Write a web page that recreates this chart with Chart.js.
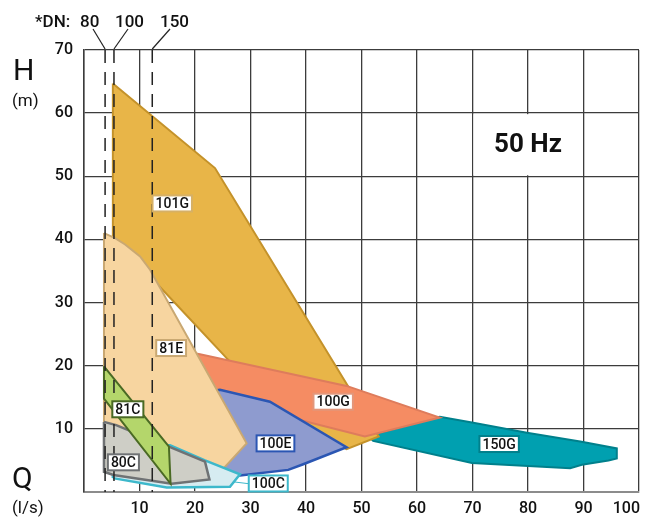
<!DOCTYPE html>
<html>
<head>
<meta charset="utf-8">
<script src="https://cdn.jsdelivr.net/npm/chart.js@4.4.1/dist/chart.umd.min.js"></script>
<style>
  html, body { margin: 0; padding: 0; background: #fff; }
  #wrap { width: 649px; height: 518px; }
</style>
</head>
<body>
<div id="wrap"><canvas id="pumpChart"></canvas></div>
<script>
// axis ticks
const qTicks = [0, 10, 20, 30, 40, 50, 60, 70, 80, 90, 100];
const hTicks = [0, 10, 20, 30, 40, 50, 60, 70];

// pipe sizes (DN) and the flow where each dashed line sits
const dnNames = ['80', '100', '150'];
const dnFlow = [3.8, 5.4, 12.3];

// pump ranges, [Q l/s, H m] corners of each area
const c81 = [[3.6, 19.9], [15.3, 7.2], [15.6, 1.3], [3.6, 14.8]];
const c80 = [[3.6, 11.1], [5.8, 10.6], [10.5, 8.9], [15.3, 7.2], [21.8, 4.8], [22.6, 2.0], [15.8, 1.3], [5.3, 2.7], [3.6, 3.2]];
const c100 = [[5.2, 2.2], [5.2, 7.5], [15.5, 7.4], [21.8, 5.0], [28.1, 2.8], [26.3, 0.84], [14.9, 0.7]];
const e81 = [[3.6, 41], [5.6, 40.2], [7.4, 39.2], [10.1, 37.3], [11.9, 35.2], [29.3, 7.7], [25.1, 3.7], [15, 2], [3.6, 3.5]];
const e100 = [[5.3, 12], [12, 14.5], [24.5, 16.2], [33.5, 14.3], [47.3, 7.1], [39.5, 4.4], [36.8, 3.5], [28.1, 2.6], [15, 2.5], [5.3, 9]];
const g100 = [[18, 22.3], [20.9, 21.8], [47.3, 16.8], [64.1, 11.8], [50.6, 8.8], [38.9, 11.4], [20, 15.8]];
const g101 = [[5.2, 64.7], [23.6, 51.3], [53.1, 8.8], [47.3, 6.8], [36, 12], [25.7, 21.2], [14.2, 32], [5.2, 40.5]];
const g150 = [[51.2, 8.9], [64.1, 11.9], [69.9, 11.0], [79.8, 9.4], [89.4, 8.0], [96.0, 6.9], [96.0, 5.3], [94.5, 5.0], [89.7, 4.3], [87.6, 3.75], [69.9, 4.6], [52.1, 8.1]];

// name tags: where each one sits (Q, H)
const tagNames = ['101G', '81E', '81C', '80C', '100E', '100C', '100G', '150G'];
const tagQ = [15.9, 15.7, 7.9, 7.1, 34.5, 33.2, 44.9, 74.8];
const tagH = [45.7, 22.8, 13.1, 4.7, 7.7, 1.35, 14.3, 7.6];
const tagEdge = ['#d6b066', '#c9a872', '#4a6a24', '#6f7274', '#2b56b3', '#3db8cb', '#e3967a', '#00808c'];

const toXY = pts => pts.concat([pts[0]]).map(([q, h]) => ({ x: q, y: h }));

// first one is drawn on top
const areas = [
  { label: '81C', pts: c81, fill: '#b4d66b', edge: '#4a6a24', w: 2 },
  { label: '80C', pts: c80, fill: '#cecec6', edge: '#6f7274', w: 2.5 },
  { label: '100C', pts: c100, fill: '#d6ecf1', edge: '#3db8cb', w: 2.5 },
  { label: '81E', pts: e81, fill: '#f7d5a0', edge: '#c9a872', w: 2 },
  { label: '100E', pts: e100, fill: '#8e9bcf', edge: '#2b56b3', w: 2.5 },
  { label: '100G', pts: g100, fill: '#f58c63', edge: '#de7c5c', w: 2 },
  { label: '101G', pts: g101, fill: '#e8b548', edge: '#c4922a', w: 2 },
  { label: '150G', pts: g150, fill: '#00a0b0', edge: '#00808c', w: 2 }
];

const overlay = {
  id: 'overlay',
  afterDraw(chart) {
    const { ctx, scales: { x, y }, chartArea } = chart;
    ctx.save();

    // "50 Hz" box
    const bx0 = x.getPixelForValue(70) + 1, bx1 = x.getPixelForValue(90) - 1;
    const by0 = y.getPixelForValue(60) + 1, by1 = y.getPixelForValue(50) - 1;
    ctx.fillStyle = '#fff';
    ctx.fillRect(bx0, by0, bx1 - bx0, by1 - by0);
    ctx.fillStyle = '#111';
    ctx.font = 'bold 26px Roboto';
    ctx.textAlign = 'center';
    ctx.textBaseline = 'middle';
    ctx.fillText('50 Hz', (bx0 + bx1) / 2, (by0 + by1) / 2 + 1);

    // DN dashed lines
    ctx.strokeStyle = '#222';
    ctx.lineWidth = 1.5;
    ctx.setLineDash([13, 9]);
    const top = y.getPixelForValue(70), bot = y.getPixelForValue(0);
    dnFlow.forEach(q => {
      const px = x.getPixelForValue(q);
      ctx.beginPath();
      ctx.moveTo(px, top);
      ctx.lineTo(px, bot);
      ctx.stroke();
    });
    ctx.setLineDash([]);

    // DN texts and leaders
    ctx.fillStyle = '#111';
    ctx.font = '500 17px Roboto';
    ctx.textAlign = 'left';
    ctx.textBaseline = 'alphabetic';
    ctx.fillText('*DN:', 35, 27);
    const textX = [80, 115, 160];
    const leadX = [93, 128, 170];
    dnNames.forEach((n, i) => {
      ctx.fillText(n, textX[i], 27);
      ctx.beginPath();
      ctx.lineWidth = 1.2;
      ctx.moveTo(leadX[i], 29);
      ctx.lineTo(x.getPixelForValue(dnFlow[i]), top - 1);
      ctx.stroke();
    });

    // axis titles
    ctx.font = '30px Roboto';
    ctx.fillText('H', 13, 80);
    ctx.fillText('Q', 12, 488);
    ctx.font = '17px Roboto';
    ctx.fillText('(m)', 12, 106);
    ctx.fillText('(l/s)', 12, 513);

    // last Q tick, kept inside the frame
    ctx.font = '500 16px Roboto';
    ctx.textAlign = 'right';
    ctx.textBaseline = 'middle';
    ctx.fillText('100', x.getPixelForValue(100) + 1, chartArea.bottom + 7 + 9.6);

    // leader from 100C area to its tag
    ctx.strokeStyle = '#3db8cb';
    ctx.lineWidth = 1;
    ctx.beginPath();
    ctx.moveTo(x.getPixelForValue(27), y.getPixelForValue(1.6));
    ctx.lineTo(x.getPixelForValue(29.8), y.getPixelForValue(1.3));
    ctx.stroke();

    // name tags
    ctx.font = '500 14px Roboto';
    ctx.textAlign = 'center';
    tagNames.forEach((t, i) => {
      const cx = x.getPixelForValue(tagQ[i]), cy = y.getPixelForValue(tagH[i]);
      const w = ctx.measureText(t).width + 6, h = 16;
      ctx.fillStyle = '#fff';
      ctx.fillRect(cx - w / 2, cy - h / 2, w, h);
      ctx.strokeStyle = tagEdge[i];
      ctx.lineWidth = 2;
      ctx.strokeRect(cx - w / 2, cy - h / 2, w, h);
      ctx.fillStyle = '#111';
      ctx.fillText(t, cx, cy + 1);
    });

    ctx.restore();
  }
};

new Chart(document.getElementById('pumpChart'), {
  type: 'scatter',
  data: {
    datasets: areas.map(a => ({
      label: a.label,
      data: toXY(a.pts),
      showLine: true,
      fill: 'shape',
      backgroundColor: a.fill,
      borderColor: a.edge,
      borderWidth: a.w,
      pointRadius: 0,
      tension: 0
    }))
  },
  options: {
    responsive: true,
    maintainAspectRatio: false,
    animation: false,
    events: [],
    layout: { padding: { top: 50, right: 10, left: 0, bottom: 0 } },
    plugins: { legend: { display: false }, tooltip: { enabled: false } },
    scales: {
      x: {
        type: 'linear',
        min: 0,
        max: 100,
        z: 1,
        afterBuildTicks: s => { s.ticks = qTicks.map(v => ({ value: v })); },
        afterFit: s => { s.height = 26; s.paddingLeft = 0; s.paddingRight = 0; },
        ticks: {
          padding: 7,
          maxRotation: 0,
          autoSkip: false,
          color: '#111',
          font: { family: 'Roboto', size: 16, weight: '500' },
          callback: v => (v === 0 || v === 100) ? '' : String(v)
        },
        grid: { color: '#3c3c3c', lineWidth: 1.3, drawTicks: false },
        border: { color: '#8c8c8c', width: 2 }
      },
      y: {
        type: 'linear',
        min: 0,
        max: 70,
        z: 1,
        afterBuildTicks: s => { s.ticks = hTicks.map(v => ({ value: v })); },
        afterFit: s => { s.width = 84; },
        ticks: {
          padding: 11,
          color: '#111',
          font: { family: 'Roboto', size: 16, weight: '500' },
          callback: v => v === 0 ? '' : String(v)
        },
        grid: { color: '#3c3c3c', lineWidth: 1.3, drawTicks: false },
        border: { color: '#3c3c3c', width: 1.5 }
      }
    }
  },
  plugins: [overlay]
});
</script>
</body>
</html>
